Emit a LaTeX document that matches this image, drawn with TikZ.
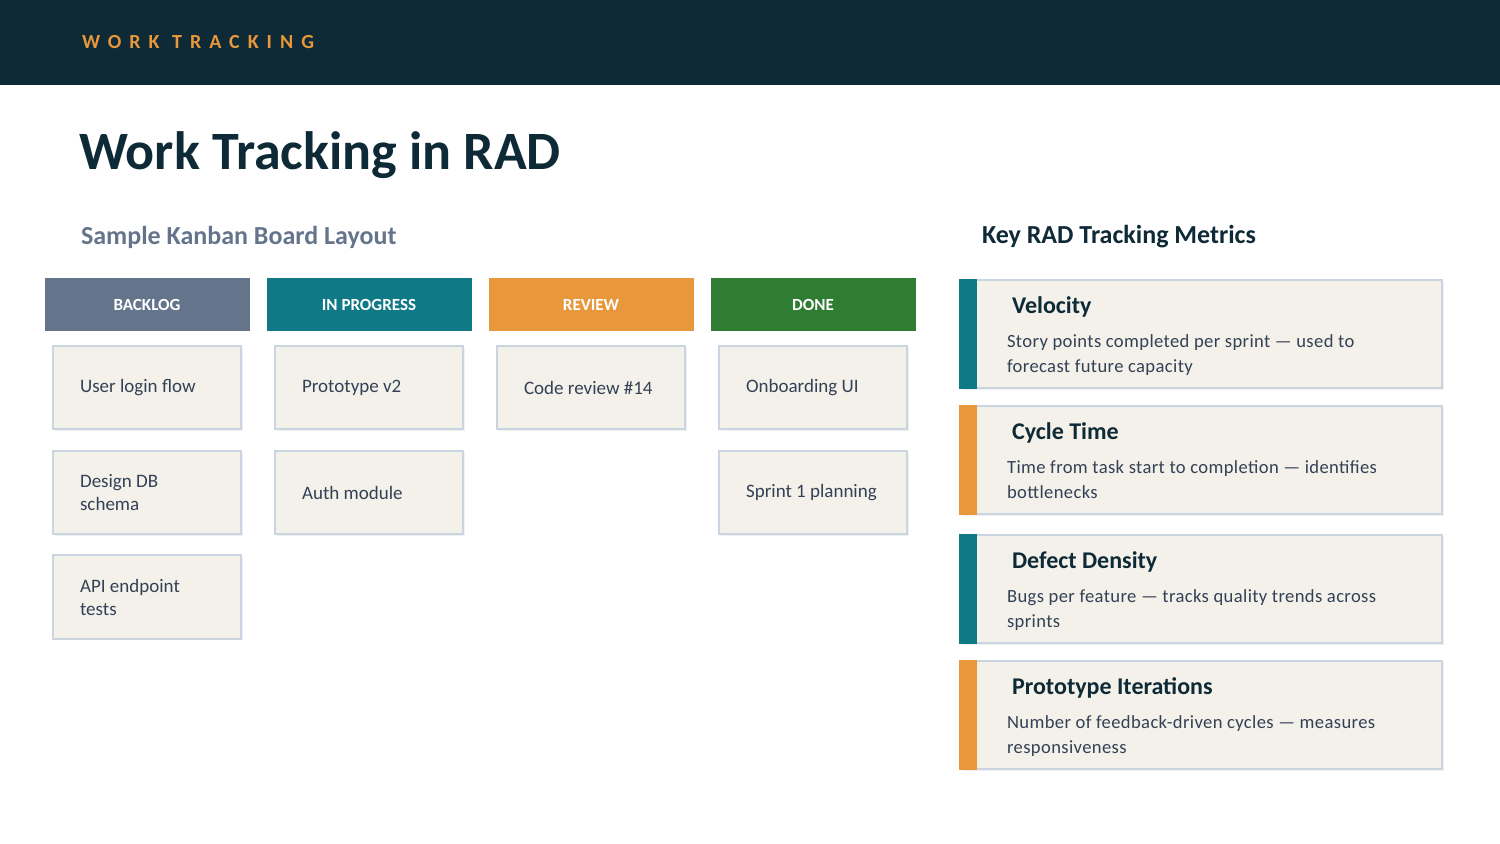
\documentclass[tikz,border=0pt]{standalone}
\usepackage{fontspec}
\setmainfont{Carlito}
\usetikzlibrary{shadows}
\definecolor{navy}{HTML}{0E2A36}
\definecolor{slate}{HTML}{64748B}
\definecolor{teal}{HTML}{0F7986}
\definecolor{amber}{HTML}{E8973A}
\definecolor{leaf}{HTML}{2E7D32}
\definecolor{paper}{HTML}{F4F1EB}
\definecolor{edge}{HTML}{CBD5E1}
\definecolor{ink}{HTML}{334155}
\tikzset{
  colhead/.style={minimum width=102.5pt,minimum height=26.5pt,inner sep=0pt,text=white,font=\fontsize{8.5}{10}\selectfont\bfseries},
  card/.style={draw=edge,line width=1pt,fill=paper,minimum width=94pt,minimum height=41.5pt,inner sep=0pt,
    drop shadow={shadow xshift=0.8pt,shadow yshift=-0.8pt,opacity=0.12}},
  cardtext/.style={anchor=west,align=left,text=ink,font=\fontsize{9.5}{11.5}\selectfont},
  metric/.style={draw=edge,line width=1pt,fill=paper,minimum width=241pt,minimum height=54pt,inner sep=0pt,anchor=north west,
    drop shadow={shadow xshift=0.8pt,shadow yshift=-0.8pt,opacity=0.12}},
  mtitle/.style={anchor=west,text=navy,font=\fontsize{12}{14}\selectfont\bfseries},
  mtext/.style={anchor=north west,align=left,text=ink,font=\fontsize{9.3}{12.5}\selectfont\addfontfeature{LetterSpace=2}},
}
\begin{document}
\begin{tikzpicture}[x=0.5pt,y=-0.5pt]
  \useasboundingbox (0,0) rectangle (1500,844);
  % header band
  \fill[navy] (0,0) rectangle (1500,85);
  \node[anchor=west,text=amber,font=\fontsize{10}{12}\selectfont\bfseries\addfontfeature{LetterSpace=40}] (kicker) at (75,42) {WORK TRACKING};
  \node[anchor=west,text=navy,font=\fontsize{27}{32}\selectfont\bfseries] (title) at (72,155) {Work Tracking in RAD};
  \node[anchor=west,text=slate,font=\fontsize{13}{15}\selectfont\bfseries] (boardlbl) at (74,237) {Sample Kanban Board Layout};
  \node[anchor=west,text=navy,font=\fontsize{13}{15}\selectfont\bfseries] (metriclbl) at (975,237) {Key RAD Tracking Metrics};
  %% column heads
  \foreach \n/\x/\c/\t in {backlog/147/slate/BACKLOG,progress/369/teal/IN PROGRESS,review/591/amber/REVIEW,done/813/leaf/DONE}
    \node[colhead,fill=\c] (\n) at (\x,304.5) {\t};
  %% the cards
  \foreach \n/\x/\y/\t in {c11/147/387.5/User login flow,c12/147/492.5/{Design DB\\schema},c13/147/597/{API endpoint\\tests},
                          c21/369/387.5/Prototype v2,c22/369/492.5/Auth module,
                          c31/591/387.5/Code review \#14,
                          c41/813/387.5/Onboarding UI,c42/813/492.5/Sprint 1 planning}
  {
    \node[card] (\n) at (\x,\y) {};
    \node[cardtext] at ([xshift=10.5pt]\n.west) {\t};
  }
  %%%% metrics
  \foreach \n/\y/\c/\h/\d in {velo/279/teal/Velocity/{Story points completed per sprint --- used to\\forecast future capacity},
                             cycle/405/amber/Cycle Time/{Time from task start to completion --- identifies\\bottlenecks},
                             defect/534/teal/Defect Density/{Bugs per feature --- tracks quality trends across\\sprints},
                             proto/660/amber/Prototype Iterations/{Number of feedback-driven cycles --- measures\\responsiveness}}
  {
    \node[metric] (\n) at (959,\y) {};
    \fill[\c] (\n.north west) rectangle ([xshift=9pt]\n.south west);
    \node[mtitle] at (1005,\y+28) {\h};
    \node[mtext] at (1000,\y+49) {\d};
  }
\end{tikzpicture}
\end{document}
